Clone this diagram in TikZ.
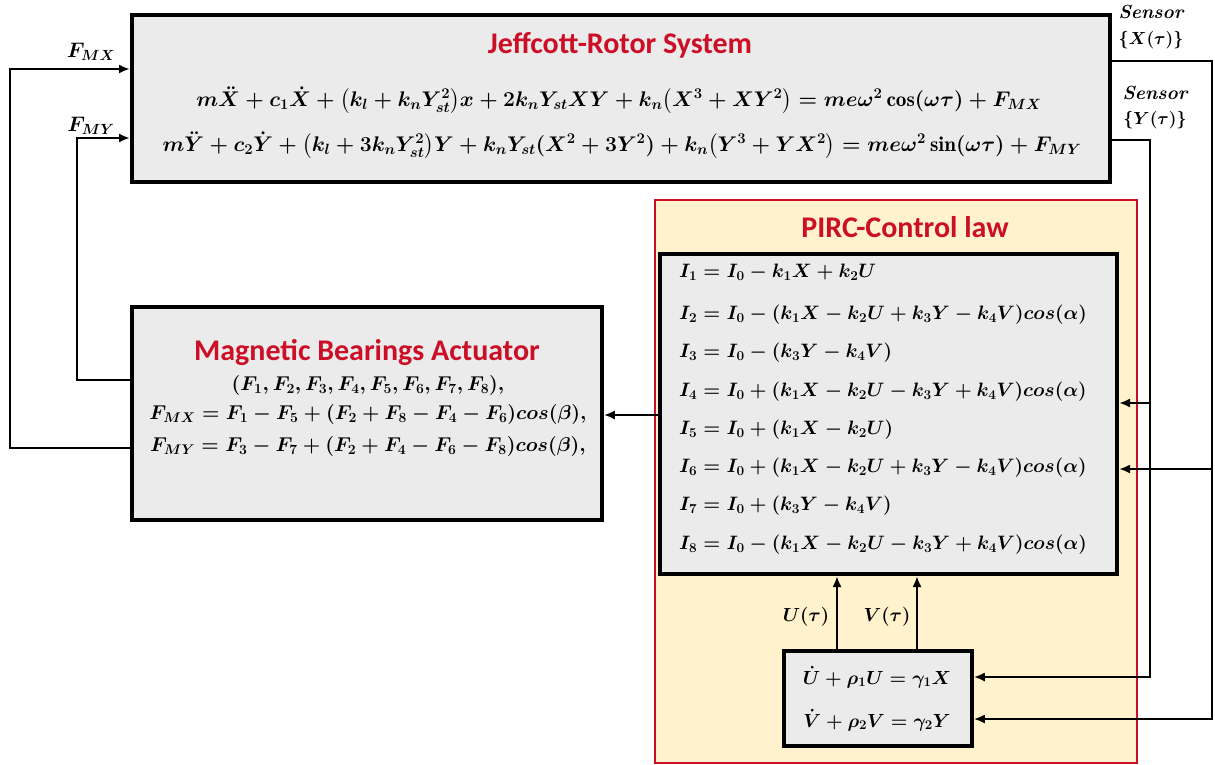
\documentclass[tikz,border=0pt]{standalone}
\usepackage{fix-cm}
\usepackage{amsmath}
\usepackage{fontspec}
\newfontfamily\calibri{Carlito}
\usetikzlibrary{arrows.meta}
\definecolor{tred}{HTML}{CC0F26}
\definecolor{boxgray}{HTML}{EBEBEB}
\definecolor{pircfill}{HTML}{FFF2CC}
\newcommand\mfont[1]{\fontsize{#1}{#1}\selectfont\mathversion{bold}}
\tikzset{
  blockbox/.style={draw=black, fill=boxgray, line width=3.5pt, inner sep=0pt},
  pircbox/.style={draw=tred, fill=pircfill, line width=1.3pt, inner sep=0pt},
  titletext/.style={text=tred, font=\calibri\bfseries\fontsize{#1}{#1}\selectfont, inner sep=0pt},
  eqtext/.style={font=\mfont{#1}, inner sep=0pt},
  sensortext/.style={font=\fontsize{19}{19}\selectfont\bfseries\itshape, inner sep=0pt},
  conn/.style={draw=black, line width=2.6pt, -{Latex[length=11pt,width=9pt]}}
}
\begin{document}
\begin{tikzpicture}[x=1pt,y=-1pt]
\useasboundingbox (0,0) rectangle (1215,764);
% boxes
\node[blockbox, line width=4pt, minimum width=978pt, minimum height=167pt] (jr) at (621,98.5) {};
\node[blockbox, minimum width=470pt, minimum height=213pt] (mba) at (367,413.5) {};
\node[pircbox, minimum width=482pt, minimum height=563pt] (pirc) at (896,481.5) {};
\node[blockbox, line width=4pt, minimum width=457pt, minimum height=320pt] (ibox) at (888.5,414) {};
\node[blockbox, minimum width=188pt, minimum height=95pt] (uv) at (878,698.5) {};
% Jeffcott texts
\node[titletext=30] (jrt) at (620,45) {Jeffcott-Rotor System};
\node[eqtext=21.2] (jre1) at (619,100) {$m\ddot{X}+c_1\dot{X}+\bigl(k_l+k_nY_{st}^2\bigr)x+2k_nY_{st}XY+k_n\bigl(X^3+XY^2\bigr)=me\omega^2\cos(\omega\tau)+F_{MX}$};
\node[eqtext=21.2] (jre2) at (622,145) {$m\ddot{Y}+c_2\dot{Y}+\bigl(k_l+3k_nY_{st}^2\bigr)Y+k_nY_{st}(X^2+3Y^2)+k_n\bigl(Y^3+YX^2\bigr)=me\omega^2\sin(\omega\tau)+F_{MY}$};
% sensor labels
\node[sensortext] (sxl) at (1151,12) {Sensor};
\node[eqtext=17.5] (sxv) at (1151,40) {$\{X(\tau)\}$};
\node[sensortext] (syl) at (1155,93) {Sensor};
\node[eqtext=17.5] (syv) at (1155,120) {$\{Y(\tau)\}$};
% force labels
\node[eqtext=21] (fmxl) at (91,52) {$F_{MX}$};
\node[eqtext=21] (fmyl) at (91,126) {$F_{MY}$};
% MBA texts
\node[titletext=30] (mbat) at (367,352) {Magnetic Bearings Actuator};
\node[eqtext=20] (mbe1) at (368,385) {$(F_1,F_2,F_3,F_4,F_5,F_6,F_7,F_8),$};
\node[eqtext=20] (mbe2) at (368,414) {$F_{MX}=F_1-F_5+(F_2+F_8-F_4-F_6)cos(\beta),$};
\node[eqtext=20] (mbe3) at (368,446) {$F_{MY}=F_3-F_7+(F_2+F_4-F_6-F_8)cos(\beta),$};
% PIRC texts
\node[titletext=30] (pirct) at (905,227) {PIRC-Control law};
\node[eqtext=19.4, anchor=west] (i1) at (679,272) {$I_1=I_0-k_1X+k_2U$};
\node[eqtext=19.4, anchor=west] (i2) at (679,315) {$I_2=I_0-(k_1X-k_2U+k_3Y-k_4V)cos(\alpha)$};
\node[eqtext=19.4, anchor=west] (i3) at (679,353) {$I_3=I_0-(k_3Y-k_4V)$};
\node[eqtext=19.4, anchor=west] (i4e) at (679,392) {$I_4=I_0+(k_1X-k_2U-k_3Y+k_4V)cos(\alpha)$};
\node[eqtext=19.4, anchor=west] (i5) at (679,430) {$I_5=I_0+(k_1X-k_2U)$};
\node[eqtext=19.4, anchor=west] (i6e) at (679,468) {$I_6=I_0+(k_1X-k_2U+k_3Y-k_4V)cos(\alpha)$};
\node[eqtext=19.4, anchor=west] (i7) at (679,506) {$I_7=I_0+(k_3Y-k_4V)$};
\node[eqtext=19.4, anchor=west] (i8) at (679,545) {$I_8=I_0-(k_1X-k_2U-k_3Y+k_4V)cos(\alpha)$};
\node[eqtext=19] (ul) at (806,617) {$U(\tau)$};
\node[eqtext=19] (vl) at (887,617) {$V(\tau)$};
\node[eqtext=19] (uve1) at (877,677) {$\dot{U}+\rho_1U=\gamma_1X$};
\node[eqtext=19] (uve2) at (877,720) {$\dot{V}+\rho_2V=\gamma_2Y$};
% coordinates
\coordinate (fmy) at (77,380);
\coordinate (fmyin) at (77,138);
\coordinate (fmx) at (10,448);
\coordinate (fmxin) at (10,69);
\coordinate (sxa) at (1212,61);
\coordinate (sxb) at (1212,719);
\coordinate (sxi) at (1212,469);
\coordinate (sya) at (1150,140);
\coordinate (syb) at (1150,677);
\coordinate (syi) at (1150,403);
\coordinate (ctl) at (0,415);
\coordinate (ux) at (837,0);
\coordinate (vx) at (917,0);
% connectors
\draw[conn] (mba.west |- fmy) -- (fmy) -- (fmyin) -- (jr.west |- fmyin);
\draw[conn] (mba.west |- fmx) -- (fmx) -- (fmxin) -- (jr.west |- fmxin);
\draw[conn] (jr.east |- sxa) -- (sxa) -- (sxb) -- (uv.east |- sxb);
\draw[conn] (sxi) -- (ibox.east |- sxi);
\draw[conn] (jr.east |- sya) -- (sya) -- (syb) -- (uv.east |- syb);
\draw[conn] (syi) -- (ibox.east |- syi);
\draw[conn] (ibox.west |- ctl) -- (mba.east |- ctl);
\draw[conn] (uv.north -| ux) -- (ibox.south -| ux);
\draw[conn] (uv.north -| vx) -- (ibox.south -| vx);
\end{tikzpicture}
\end{document}
